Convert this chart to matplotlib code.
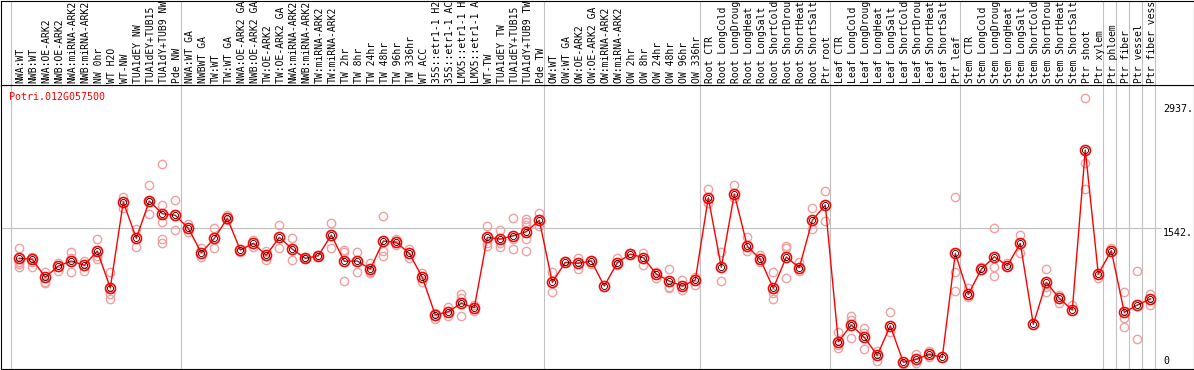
import matplotlib
matplotlib.use('Agg')
import matplotlib.pyplot as plt
import numpy as np

gene = 'Potri.012G057500'

samples = [
    'NWA:WT', 'NWB:WT', 'NWA:OE-ARK2', 'NWB:OE-ARK2', 'NWA:miRNA-ARK2', 'NWB:miRNA-ARK2',
    'NW 0hr', 'WT H2O', 'WT-NW', 'TUA1dEY NW', 'TUA1dEY+TUB15 NW', 'TUA1dY+TUB9 NW', 'Pde NW',
    'NWA:WT GA', 'NWBWT GA', 'TW:WT', 'TW:WT GA', 'NWA:OE-ARK2 GA', 'NWB:OE-ARK2 GA',
    'TW:OE-ARK2', 'TW:OE-ARK2 GA', 'NWA:miRNA-ARK2', 'NWB:miRNA-ARK2', 'TW:miRNA-ARK2',
    'TW:miRNA-ARK2', 'TW 2hr', 'TW 8hr', 'TW 24hr', 'TW 48hr', 'TW 96hr', 'TW 336hr', 'WT ACC',
    '35S::etr1-1 H2O', '35S::etr1-1 ACC', 'LMX5::etr1-1 H2O', 'LMX5::etr1-1 ACC', 'WT-TW',
    'TUA1dEY TW', 'TUA1dEY+TUB15 TW', 'TUA1dY+TUB9 TW', 'Pde TW',
    'OW:WT', 'OW:WT GA', 'OW:OE-ARK2', 'OW:OE-ARK2 GA', 'OW:miRNA-ARK2', 'OW:miRNA-ARK2',
    'OW 2hr', 'OW 8hr', 'OW 24hr', 'OW 48hr', 'OW 96hr', 'OW 336hr',
    'Root CTR', 'Root LongCold', 'Root LongDrought', 'Root LongHeat', 'Root LongSalt',
    'Root ShortCold', 'Root ShortDrought', 'Root ShortHeat', 'Root ShortSalt', 'Ptr root',
    'Leaf CTR', 'Leaf LongCold', 'Leaf LongDrought', 'Leaf LongHeat', 'Leaf LongSalt',
    'Leaf ShortCold', 'Leaf ShortDrought', 'Leaf ShortHeat', 'Leaf ShortSalt', 'Ptr leaf',
    'Stem CTR', 'Stem LongCold', 'Stem LongDrought', 'Stem LongHeat', 'Stem LongSalt',
    'Stem ShortCold', 'Stem ShortDrought', 'Stem ShortHeat', 'Stem ShortSalt', 'Ptr shoot',
    'Ptr xylem', 'Ptr phloem', 'Ptr fiber', 'Ptr vessel', 'Ptr fiber vessel',
]

# mean expression per sample
means = [
    1206, 1195, 993, 1120, 1176, 1128, 1288, 874, 1837, 1430, 1848, 1706, 1688,
    1542, 1269, 1430, 1654, 1299, 1374, 1240, 1441, 1310, 1206, 1235, 1467, 1173, 1176,
    1086, 1400, 1385, 1262, 993, 571, 608, 702, 653, 1441, 1422, 1459, 1504, 1632,
    937, 1161, 1150, 1176, 896, 1157, 1254, 1213, 1030, 952, 896, 963,
    1885, 1105, 1926, 1341, 1195, 870, 1221, 1101, 1632, 1803,
    272, 459, 321, 120, 451, 41, 75, 131, 97, 1262,
    803, 1083, 1224, 1123, 1374, 467, 937, 758, 627, 2419,
    1030, 1291, 601, 683, 750,
]

# individual replicates
reps = [
    [1318, 1168, 1139, 1112], [1224, 1168, 1112], [1049, 944, 926], [1150, 1064],
    [1280, 1213, 1049], [1176, 1067], [1422, 1235, 1198], [1049, 803, 747],
    [1896, 1766], [1534, 1336], [2027, 1699, 1840], [2262, 1803, 1616, 1422, 1374],
    [1856, 1520],
    [1587, 1504], [1325, 1221], [1542, 1325], [1691, 1635], [1280], [1411, 1336],
    [1291, 1187], [1579, 1318], [1430, 1187], [1213], [1232], [1598, 1325],
    [1299, 1280, 952], [1273, 1049], [1150, 1049, 1038], [1680, 1291, 1229],
    [1422, 1355], [1310, 1213], [1045, 944], [590, 526], [664, 563], [803, 758, 560],
    [683, 616], [1568, 1374, 1347], [1520, 1374, 1336], [1654, 1419, 1307],
    [1643, 1609, 1579, 1422, 1285], [1714, 1568],
    [1049, 825], [1176], [1213, 1086], [1146], [], [1206, 1131], [1262], [1262, 1131],
    [1056, 989], [1086, 888, 870], [963, 851], [1000, 907],
    [1982, 1822], [1280, 955], [2027, 1878], [1441, 1288], [1243, 1168],
    [1049, 814, 747], [1344, 1318, 989], [1168, 1067], [1766, 1531], [1957, 1621],
    [377, 235, 198], [560, 515, 310], [422, 366, 187], [171, 59], [601, 377], [22],
    [131, 30], [171, 101], [], [1889, 1056, 840],
    [870, 769], [1112], [1549, 1112, 1011], [1150], [1467, 1262], [], [1083, 888, 832],
    [795, 702], [683], [2998, 2270, 1979],
    [989], [1318], [825, 534, 440], [1064, 299], [806, 683],
]

group_ends = [12, 40, 52, 62, 72, 83, 84, 85, 86, 87]
ytick_vals = [2937, 1542, 0]

W, H = 1194, 370
fig = plt.figure(figsize=(W / 100, H / 100), dpi=100)

def px_box(left, top, right, bottom):
    return [left / W, 1 - bottom / H, (right - left) / W, (bottom - top) / H]

ax = fig.add_axes(px_box(0.5, 85, 1193.5, 369))
hd = fig.add_axes(px_box(0.5, 0.5, 1193.5, 85))

step = 13.0
x0 = 19.3
xlim = ((0.5 - x0) / step, (1193.5 - x0) / step)
ax.set_xlim(*xlim)
hd.set_xlim(*xlim)
ax.set_ylim(-33.6, 3147)
hd.set_ylim(0, 1)

for a in (ax, hd):
    a.set_xticks([])
    a.set_yticks([])
    for s in a.spines.values():
        s.set_linewidth(0.8)
        s.set_color('black')

gray = '#c0c0c0'
seps = [-0.65] + [e + 0.4 for e in group_ends]
for s in seps:
    ax.axvline(s, color=gray, lw=0.8, zorder=1)
    hd.axvline(s, color=gray, lw=0.8, zorder=1)

ax.hlines(1542, xlim[0], (1161 - x0) / step, color=gray, lw=0.8, zorder=1)

x = np.arange(len(samples))

# replicates
for i, r in enumerate(reps):
    if len(r):
        ax.plot([i] * len(r), r, 'o', ms=6, mfc='none', mec='#f0a0a0', mew=1.0, zorder=2)

ax.plot(x, means, '-', color='red', lw=1.0, zorder=3)
ax.plot(x, means, 'o', ms=7.2, mfc='none', mec='red', mew=1.2, zorder=4)
ax.plot(x, means, 'o', ms=4.4, mfc='none', mec='black', mew=0.6, zorder=5)

mono = 'DejaVu Sans Mono'
fs = 7.0

# sample labels in header, header is only ~14 characters tall
for i, lab in enumerate(samples):
    hd.text(i + 0.1, 2.5 / 85, lab[:14], rotation=90, ha='center', va='bottom',
            family=mono, fontsize=fs, color='black')

fig.text(9.3 / W, 1 - 97.3 / H, gene, color='red', family=mono, fontsize=7.2,
         ha='left', va='center')

xt = (1163 - x0) / step
for v in ytick_vals:
    if v:
        ax.text(xt, v, '%d.' % v, family=mono, fontsize=7.2, ha='left', va='top')
    else:
        ax.text(xt, v, '0', family=mono, fontsize=7.2, ha='left', va='bottom')

fig.savefig('out.png', dpi=100)
